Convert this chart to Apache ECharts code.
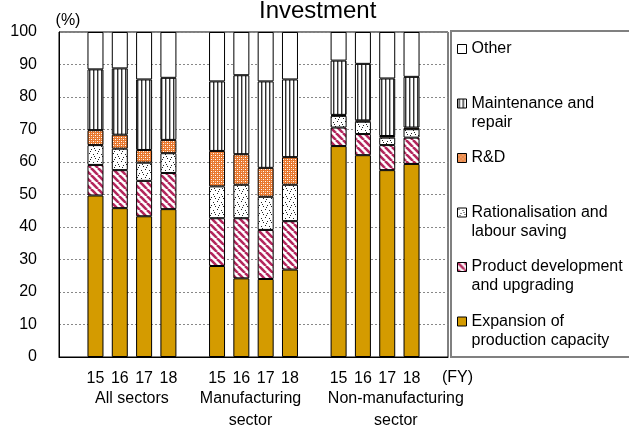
<!DOCTYPE html>
<html>
<head>
<meta charset="utf-8">
<script src="https://cdn.jsdelivr.net/npm/echarts@6/dist/echarts.min.js"></script>
<style>
  html, body { margin: 0; padding: 0; background: #fff; }
  #main { width: 629px; height: 429px; }
</style>
</head>
<body>
<div id="main"></div>
<script>
  // 年度と区分
  var years = ['15', '16', '17', '18'];
  var sectors = ['All sectors', 'Manufacturing\nsector', 'Non-manufacturing\nsector'];
  var yTicks = [0, 10, 20, 30, 40, 50, 60, 70, 80, 90, 100];

  // 各項目の値（%）: All sectors 15-18, Manufacturing 15-18, Non-manufacturing 15-18
  var expansion   = [49.7, 45.8, 43.3, 45.5, 28.0, 24.2, 24.0, 26.9, 64.9, 62.1, 57.5, 59.4];
  var productDev  = [9.4, 11.7, 10.9, 11.1, 14.7, 18.5, 15.1, 14.9, 5.7, 6.5, 7.7, 8.1];
  var rational    = [6.1, 6.6, 5.6, 6.1, 9.8, 10.3, 10.2, 11.2, 3.6, 3.8, 2.3, 2.6];
  var rnd         = [4.6, 4.3, 3.9, 4.1, 10.9, 9.4, 8.9, 8.5, 0.3, 0.4, 0.5, 0.5];
  var maintenance = [18.7, 20.4, 21.7, 19.1, 21.4, 24.3, 26.6, 23.9, 16.7, 17.4, 17.7, 15.6];
  var other       = [11.5, 11.2, 14.6, 14.1, 15.2, 13.3, 15.2, 14.6, 8.8, 9.8, 14.3, 13.8];

  // カテゴリ（区分の前後に空きを入れる）
  var categories = [];
  sectors.forEach(function () {
    categories.push('');
    years.forEach(function (y) { categories.push(y); });
  });
  categories.push('');

  // 区分ラベル用（境界に置く）
  var groupCats = [];
  for (var i = 0; i <= categories.length; i++) groupCats.push('');
  groupCats[3] = 'g0';
  groupCats[8] = 'g1';
  groupCats[14] = 'g2';

  function spread(vals) {
    var out = [];
    var k = 0;
    sectors.forEach(function () {
      out.push('-');
      years.forEach(function () { out.push(vals[k++]); });
    });
    out.push('-');
    return out;
  }

  // 模様
  function pat(w, h, draw) {
    var c = document.createElement('canvas');
    c.width = w; c.height = h;
    var ctx = c.getContext('2d');
    ctx.fillStyle = '#fff';
    ctx.fillRect(0, 0, w, h);
    draw(ctx);
    return { image: c, repeat: 'repeat' };
  }
  var gold = '#D49B00';
  var stripes = pat(7, 7, function (ctx) {
    ctx.strokeStyle = '#B3265C';
    ctx.lineWidth = 2.6;
    [-7, 0, 7].forEach(function (k) {
      ctx.beginPath(); ctx.moveTo(k, 0); ctx.lineTo(k + 7, 7); ctx.stroke();
    });
  });
  var dots = pat(8, 8, function (ctx) {
    ctx.fillStyle = '#222';
    [[1, 1], [5, 2], [3, 5], [7, 6], [6, 4], [2, 7]].forEach(function (p) {
      ctx.fillRect(p[0], p[1], 1, 1);
    });
  });
  var checks = pat(4, 4, function (ctx) {
    ctx.fillStyle = '#E8782E';
    ctx.fillRect(0, 0, 4, 4);
    ctx.fillStyle = '#fff';
    ctx.fillRect(1, 1, 1, 1);
    ctx.fillRect(3, 3, 1, 1);
    ctx.fillStyle = '#F6C09C';
    ctx.fillRect(3, 1, 1, 1);
    ctx.fillRect(1, 3, 1, 1);
  });
  var vlines = pat(4, 1, function (ctx) {
    ctx.fillStyle = '#333';
    ctx.fillRect(1, 0, 1, 1);
    ctx.fillStyle = '#aaa';
    ctx.fillRect(2, 0, 1, 1);
  });

  var seriesDefs = [
    { name: 'Expansion of\nproduction capacity', data: expansion, color: gold },
    { name: 'Product development\nand upgrading', data: productDev, color: stripes },
    { name: 'Rationalisation and\nlabour saving', data: rational, color: dots },
    { name: 'R&D', data: rnd, color: checks },
    { name: 'Maintenance and\nrepair', data: maintenance, color: vlines },
    { name: 'Other', data: other, color: '#fff' }
  ];

  var series = seriesDefs.map(function (s) {
    return {
      name: s.name,
      type: 'bar',
      stack: 'total',
      barWidth: 16,
      data: spread(s.data),
      itemStyle: { color: s.color, borderColor: '#000', borderWidth: 1 },
      emphasis: { disabled: true }
    };
  });

  // 凡例（上から順に）。2行の項目は先頭に空行を足して1行目をアイコンに揃える
  var legendOrder = seriesDefs.slice().reverse();
  var legends = legendOrder.map(function (s, i) {
    var c = 49 + i * 54.5;
    var two = s.name.indexOf('\n') >= 0;
    return {
      data: [s.name],
      orient: 'vertical',
      left: 457,
      top: two ? c - 28.5 : c - 9.5,
      padding: 0,
      itemWidth: 9,
      itemHeight: 9,
      icon: 'rect',
      selectedMode: false,
      itemStyle: { borderColor: '#000', borderWidth: 1 },
      formatter: function (name) { return two ? ' \n' + name : name; },
      textStyle: { fontSize: 16, lineHeight: 19, color: '#000' }
    };
  });

  var chart = echarts.init(document.getElementById('main'));
  chart.setOption({
    animation: false,
    textStyle: { fontFamily: 'Liberation Sans, Arial, sans-serif' },
    title: {
      text: 'Investment',
      left: 259,
      top: -1,
      padding: 0,
      textStyle: { fontSize: 24, fontWeight: 'normal', color: '#000' }
    },
    legend: legends,
    grid: {
      left: 59, top: 32, width: 389, height: 325,
      show: true, borderColor: '#000', borderWidth: 1
    },
    xAxis: [{
      type: 'category',
      data: categories,
      axisLine: { lineStyle: { color: '#000', width: 1 } },
      axisTick: { inside: true, length: 5, interval: 0, lineStyle: { color: '#000' } },
      axisLabel: { interval: 0, fontSize: 16, lineHeight: 18, margin: 13, color: '#000' }
    }, {
      type: 'category',
      position: 'bottom',
      boundaryGap: false,
      data: groupCats,
      axisLine: { show: false },
      axisTick: { show: false },
      axisLabel: {
        interval: 0, margin: 31, color: '#000',
        formatter: function (v) {
          if (v === 'g0') return '{a|' + sectors[0] + '}';
          if (v === 'g1') return sectors[1].split('\n').map(function (t) { return '{b|' + t + '}'; }).join('\n');
          if (v === 'g2') return sectors[2].split('\n').map(function (t) { return '{c|' + t + '}'; }).join('\n');
          return '';
        },
        rich: {
          a: { fontSize: 16, lineHeight: 22, color: '#000' },
          b: { fontSize: 16, lineHeight: 22, color: '#000', padding: [0, 6, 0, 0] },
          c: { fontSize: 16, lineHeight: 22, color: '#000', padding: [0, 7, 0, 0] }
        }
      }
    }],
    yAxis: {
      type: 'value',
      min: yTicks[0],
      max: yTicks[yTicks.length - 1],
      interval: 10,
      name: '(%)',
      nameLocation: 'end',
      nameGap: 3,
      nameTextStyle: { fontSize: 16, color: '#000', padding: [0, 0, 0, 18] },
      axisLine: { show: true, lineStyle: { color: '#000' } },
      axisTick: { show: false },
      axisLabel: { fontSize: 16, margin: 22, color: '#000' },
      splitLine: { lineStyle: { color: '#888', type: [2, 2], width: 1 } }
    },
    graphic: [{
      type: 'rect',
      shape: { x: 451, y: 31, width: 200, height: 326 },
      style: { fill: '#fff', stroke: '#808080', lineWidth: 2 },
      z: -1
    }, {
      type: 'text',
      left: 442,
      top: 370,
      style: { text: '(FY)', fontSize: 16, fontFamily: 'Liberation Sans, Arial, sans-serif', fill: '#000' }
    }],
    series: series
  });
</script>
</body>
</html>
